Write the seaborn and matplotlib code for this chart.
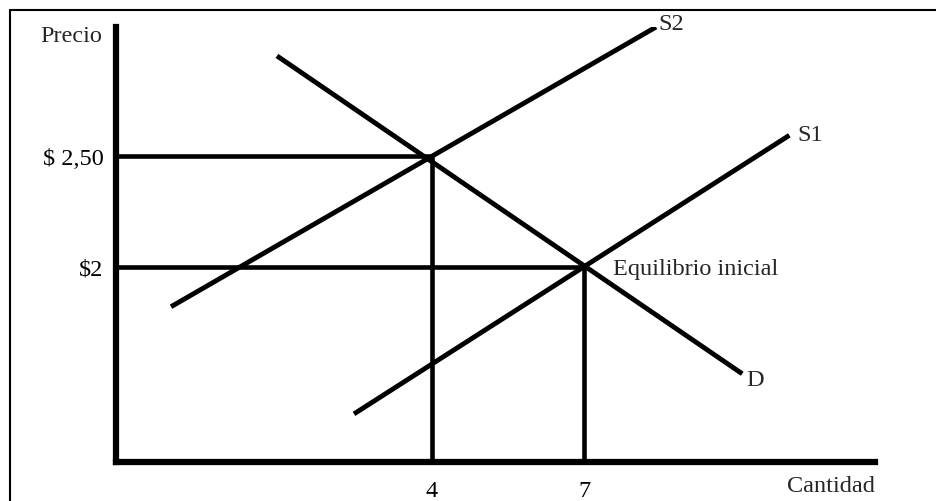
import pandas as pd
import matplotlib.pyplot as plt
import seaborn as sns
from matplotlib.lines import Line2D

sns.set_theme(style="white")
plt.rcParams["font.family"] = ["Liberation Serif", "DejaVu Serif"]

# curves (cantidad, precio)
s1_q = [2.46, 11.05]
s1_p = [1.332, 2.595]
s2_q = [-1.15, 8.42]
s2_p = [1.818, 3.086]
d_q = [0.94, 10.12]
d_p = [2.955, 1.514]

# equilibrium points
eq_q = [4, 7]
eq_p = [2.5, 2.0]
q_labels = ["4", "7"]
p_labels = ["\\$ 2,50", "\\$2"]

curves = pd.concat([
    pd.DataFrame({"curva": "S1", "Cantidad": s1_q, "Precio": s1_p}),
    pd.DataFrame({"curva": "S2", "Cantidad": s2_q, "Precio": s2_p}),
    pd.DataFrame({"curva": "D", "Cantidad": d_q, "Precio": d_p}),
])

fig = plt.figure(figsize=(9.37, 5.02), dpi=100)
ax = fig.add_axes([116 / 937, 39 / 502, (875 - 116) / 937, (463 - 28) / 502])

qmin, qmax = -2.236, 12.74
pmin, pmax = 1.114, 3.086
ax.set_xlim(qmin, qmax)
ax.set_ylim(pmin, pmax)

sns.lineplot(data=curves, x="Cantidad", y="Precio", units="curva", estimator=None,
             sort=False, color="black", lw=3.5, ax=ax, solid_capstyle="butt")

# guide lines down to the axes
ax.hlines(eq_p, qmin, eq_q, color="black", lw=3.3)
ax.vlines(eq_q, pmin, eq_p, color="black", lw=3.3)

# curve labels
fs = 17.5
ax.annotate("S2", (s2_q[-1], s2_p[-1]), xytext=(1.5, -1.5), textcoords="offset points",
            ha="left", va="baseline", fontsize=fs)
ax.annotate("S1", (s1_q[-1], s1_p[-1]), xytext=(6, -3.6), textcoords="offset points",
            ha="left", va="baseline", fontsize=fs)
ax.annotate("D", (d_q[-1], d_p[-1]), xytext=(3, -8), textcoords="offset points",
            ha="left", va="baseline", fontsize=fs)
ax.annotate("Equilibrio inicial", (eq_q[1], eq_p[1]), xytext=(21, -5),
            textcoords="offset points", ha="left", va="baseline", fontsize=fs)

ax.set_xticks(eq_q, q_labels)
ax.set_yticks(eq_p, p_labels)
ax.tick_params(axis="both", length=0, labelsize=fs, colors="black")
ax.tick_params(axis="x", pad=13)
ax.tick_params(axis="y", pad=9)
ax.set_xlabel("")
ax.set_ylabel("")

for side in ["top", "right"]:
    ax.spines[side].set_visible(False)
for side in ["left", "bottom"]:
    ax.spines[side].set_linewidth(4.5)
    ax.spines[side].set_color("black")
ax.patch.set_alpha(0)

fig.text(102 / 937, 1 - 42 / 502, "Precio", ha="right", va="baseline", fontsize=fs)
fig.text(875 / 937, 1 - 492 / 502, "Cantidad", ha="right", va="baseline", fontsize=fs)

# outer frame (only left and top visible in the crop)
fig.add_artist(Line2D([10 / 937, 10 / 937], [0, 1 - 11 / 502], color="black", lw=1.5))
fig.add_artist(Line2D([10 / 937, 1], [1 - 11 / 502, 1 - 11 / 502], color="black", lw=1.5))

fig.savefig("out.png", dpi=100)
